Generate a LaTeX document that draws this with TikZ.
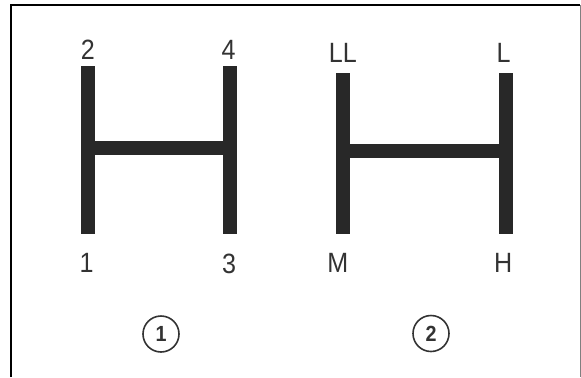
\documentclass[tikz,border=0pt]{standalone}
\usepackage{fontspec}
\setmainfont[FakeStretch=0.9]{Liberation Sans}
\usetikzlibrary{positioning}
\definecolor{barc}{HTML}{282828}
\definecolor{txtc}{HTML}{333333}

\begin{document}
\begin{tikzpicture}[x=1bp,y=-1bp,
  bar/.style={fill=barc,inner sep=0pt,minimum width=14.5bp},
  cross/.style={draw=barc,line width=14bp},
  gear/.style={inner sep=0pt,text=txtc,font=\fontsize{28}{28}\selectfont},
  numc/.style={draw=txtc,circle,line width=1.6bp,minimum size=36bp,inner sep=0pt,text=txtc,font=\bfseries\fontsize{22}{22}\selectfont}]
\useasboundingbox (0,0) rectangle (581,377);
% frame
\draw[line width=2bp] (11,377) -- (11,5) -- (580,5);
\draw[gray,line width=0.9bp] (580,5) -- (580,377);
% shift pattern 1
\node[bar,minimum height=168.3bp] (l1) at (87.8,150) {};
\node[bar,minimum height=168.3bp] (r1) at (230,150) {};
\draw[cross] ([yshift=1.8bp]l1.east) -- ([yshift=1.8bp]r1.west);
\node[gear,above=5.7bp of l1] (g2) {2};
\node[gear,above=5.7bp of r1,xshift=-1.5bp] (g4) {4};
\node[gear,below=19bp of l1,xshift=-1.3bp] (g1) {1};
\node[gear,below=19bp of r1,xshift=-1bp] (g3) {3};
\node[numc] (c1) at (161,334) {1};
% shift pattern 2
\node[bar,minimum height=160.7bp] (l2) at (342.8,153.7) {};
\node[bar,minimum height=160.7bp] (r2) at (506.2,153.7) {};
\draw[cross] ([yshift=2.4bp]l2.east) -- ([yshift=2.4bp]r2.west);
\node[gear,above=10.3bp of l2] (gll) {LL};
\node[gear,above=10.3bp of r2,xshift=-2.7bp] (gl) {L};
\node[gear,below=19bp of l2,xshift=-5bp] (gm) {M};
\node[gear,below=19bp of r2,xshift=-3bp] (gh) {H};
\node[numc] (c2) at (431,333.5) {2};
\end{tikzpicture}
\end{document}
